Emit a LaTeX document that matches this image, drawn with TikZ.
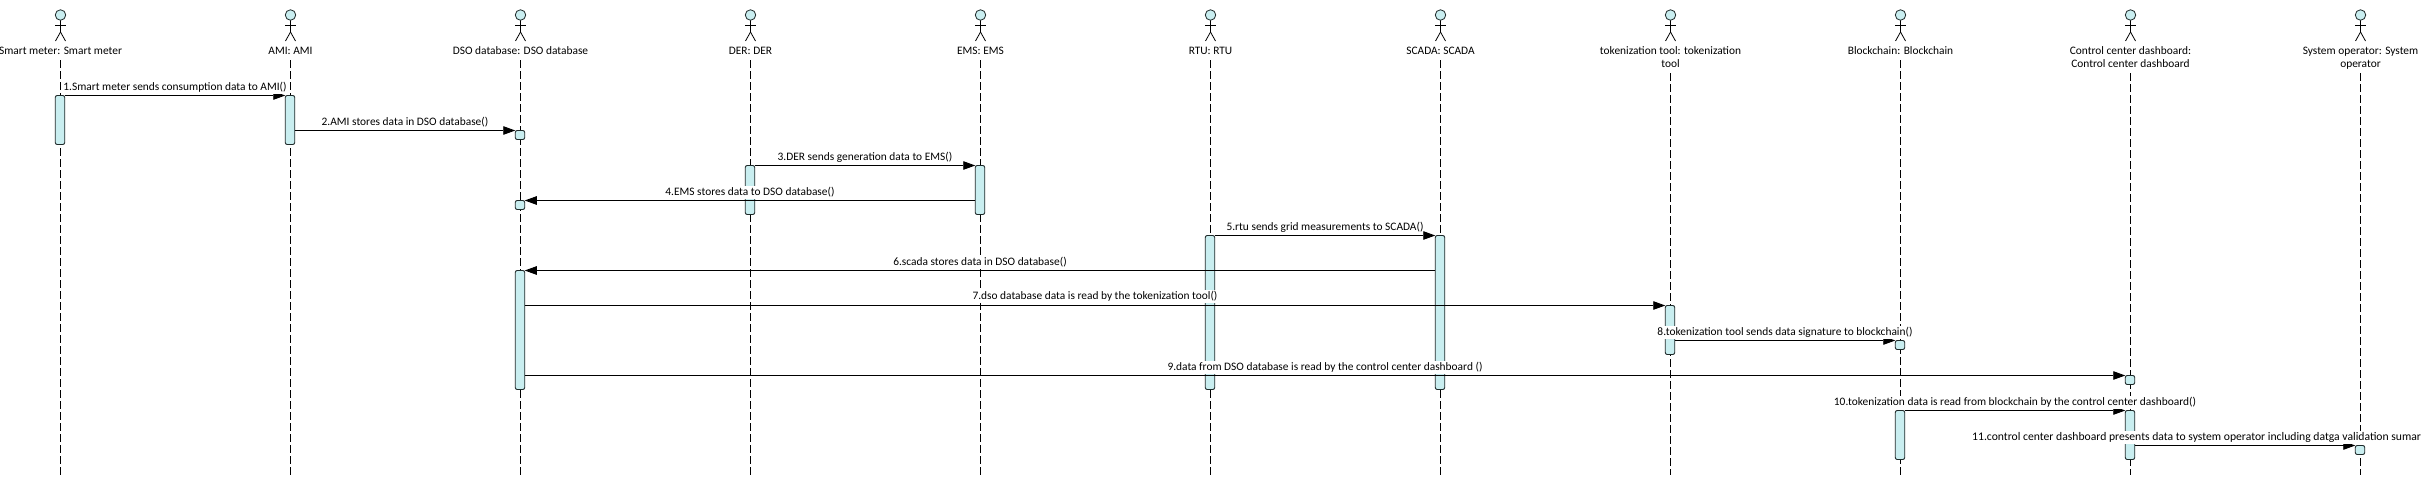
\documentclass[tikz,border=0pt]{standalone}
\usepackage{fontspec}
\setmainfont{Carlito}
\usetikzlibrary{arrows.meta}
\definecolor{barfill}{HTML}{C9EEF0}
\definecolor{barline}{HTML}{1F2A2A}
\tikzset{
  x=1pt,y=-1pt,
  lifeline/.style={draw=black,line width=0.75pt,dash pattern=on 8pt off 3pt},
  bar/.style={draw=barline,fill=barfill,line width=0.9pt,rounded corners=2pt,minimum width=9.5pt,inner sep=0pt,outer sep=0pt},
  msg/.style={draw=black,line width=0.9pt,-{Triangle[length=12pt,width=8.5pt]},shorten >=0pt},
  msglabel/.style={fill=white,inner sep=0pt,minimum height=13.5pt,anchor=south,font=\fontsize{11.4}{13}\selectfont,text=black},
  actorlabel/.style={align=center,inner sep=0pt,font=\fontsize{11.4}{13}\selectfont,text=black,anchor=north},
  stick/.style={draw=black,line width=0.8pt},
  head/.style={draw=barline,fill=barfill,line width=0.8pt,circle,minimum size=10.5pt,inner sep=0pt,outer sep=0pt}
}
\newcommand{\actorfig}[5]{% id, x, label, lifeline start, 
  \node[head] (#1H) at (#2,15) {};
  \draw[stick] (#1H.south) -- (#2,32) -- (#2-5,41);
  \draw[stick] (#2,32) -- (#2+5,41);
  \draw[stick] (#2-5.5,25) -- (#2+5.5,25);
  \node[actorlabel,#5] (#1L) at (#2,46.5) {#3};
  \coordinate (#1T) at (#2,#4);
  \coordinate (#1B) at (#2,475);
  \draw[lifeline] (#1T) -- (#1B);
}
\newcommand{\barbox}[4]{% id, x, top, bottom
  \node[bar,minimum height=#4pt-#3pt] (#1) at (#2,{(#3+#4)/2}) {};
}
\begin{document}
\begin{tikzpicture}
\useasboundingbox (0,0) rectangle (2421,485);
\actorfig{sm}{60.5}{Smart meter: Smart meter}{60}{}
\actorfig{ami}{290.5}{AMI: AMI}{60}{}
\actorfig{dso}{520.5}{DSO database: DSO database}{60}{}
\actorfig{der}{750.5}{DER: DER}{60}{}
\actorfig{ems}{980.5}{EMS: EMS}{60}{}
\actorfig{rtu}{1210.5}{RTU: RTU}{60}{}
\actorfig{sca}{1440.5}{SCADA: SCADA}{60}{}
\actorfig{tok}{1670.5}{tokenization tool: tokenization\\tool}{73}{}
\actorfig{blk}{1900.5}{Blockchain: Blockchain}{60}{}
\actorfig{ccd}{2130.5}{Control center dashboard:\\Control center dashboard}{73}{}
\actorfig{sys}{2360.5}{System operator: System\\operator}{73}{}
\barbox{smA}{60}{95.5}{144.5}
\barbox{amiA}{290}{95.5}{144.5}
\barbox{dsoB}{520}{130.5}{139.5}
\barbox{derA}{750}{165.5}{214.5}
\barbox{emsA}{980}{165.5}{214.5}
\barbox{dsoC}{520}{200.5}{209.5}
\barbox{rtuA}{1210}{235.5}{389.5}
\barbox{scaA}{1440}{235.5}{389.5}
\barbox{dsoA}{520}{270.5}{389.5}
\barbox{tokA}{1670}{305.5}{354.5}
\barbox{blkB}{1900}{340.5}{349.5}
\barbox{ccdB}{2130}{375.5}{384.5}
\barbox{blkA}{1900}{410.5}{459.5}
\barbox{ccdA}{2130}{410.5}{459.5}
\barbox{sysA}{2360}{445.5}{454.5}
\draw[msg] (smA.north east) -- (amiA.north west);
\draw[msg] (amiA.east |- dsoB.north) -- (dsoB.north west);
\draw[msg] (derA.north east) -- (emsA.north west);
\draw[msg] (emsA.west |- dsoC.north) -- (dsoC.north east);
\draw[msg] (rtuA.north east) -- (scaA.north west);
\draw[msg] (scaA.west |- dsoA.north) -- (dsoA.north east);
\draw[msg] (dsoA.east |- tokA.north) -- (tokA.north west);
\draw[msg] (tokA.east |- blkB.north) -- (blkB.north west);
\draw[msg] (dsoA.east |- ccdB.north) -- (ccdB.north west);
\draw[msg] (blkA.north east) -- (ccdA.north west);
\draw[msg] (ccdA.east |- sysA.north) -- (sysA.north west);
\node[msglabel] (m1) at (175,94.5) {1.Smart meter sends consumption data to AMI()};
\node[msglabel] (m2) at (405,129.5) {2.AMI stores data in DSO database()};
\node[msglabel] (m3) at (865,164.5) {3.DER sends generation data to EMS()};
\node[msglabel] (m4) at (750,199.5) {4.EMS stores data to DSO database()};
\node[msglabel] (m5) at (1325,234.5) {5.rtu sends grid measurements to SCADA()};
\node[msglabel] (m6) at (980,269.5) {6.scada stores data in DSO database()};
\node[msglabel] (m7) at (1095,303.5) {7.dso database data is read by the tokenization tool()};
\node[msglabel] (m8) at (1785,339.5) {8.tokenization tool sends data signature to blockchain()};
\node[msglabel] (m9) at (1325,374.5) {9.data from DSO database is read by the control center dashboard ()};
\node[msglabel] (m10) at (2015,409.5) {10.tokenization data is read from blockchain by the control center dashboard()};
\node[msglabel,anchor=south west,font=\fontsize{11.65}{13}\selectfont] (m11) at (1972,444.5) {11.control center dashboard presents data to system operator including datga validation sumar};
\end{tikzpicture}
\end{document}
